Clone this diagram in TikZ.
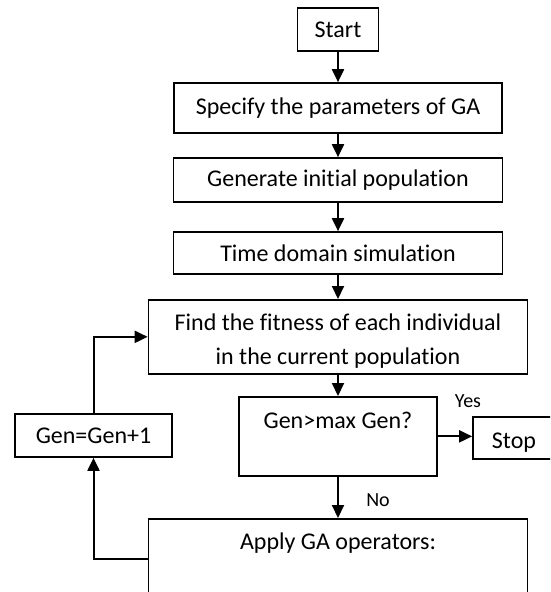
\documentclass[tikz,border=0pt]{standalone}
\usepackage{fontspec}
\setmainfont{Carlito}[Ligatures=NoCommon]
\usetikzlibrary{arrows.meta}

\begin{document}
\begin{tikzpicture}[x=1pt,y=-1pt,
  every node/.style={font=\fontsize{24}{34}\selectfont,align=center},
  blk/.style={draw,line width=1.7pt,inner sep=0pt},
  flow/.style={line width=2pt,-{Triangle[length=13pt,width=12pt]}},
  lbl/.style={font=\fontsize{20}{24}\selectfont}]
  \useasboundingbox (0,0) rectangle (550,592);
  \clip (0,0) rectangle (550,592);

  % main column
  \node[blk,minimum width=81,minimum height=43] (start) at (338,29.5) {Start};
  \node[blk,minimum width=328,minimum height=50] (spec) at (338,108) {Specify the parameters of GA};
  \node[blk,minimum width=329,minimum height=44] (init) at (338,180) {Generate initial population};
  \node[blk,minimum width=329,minimum height=42] (sim) at (338,253) {Time domain simulation};
  \node[blk,minimum width=379,text height=65,text depth=9,anchor=north] (fit) at (338,299) {Find the fitness of each individual\\in the current population};
  \node[blk,minimum width=198,text height=32,text depth=47,anchor=north] (test) at (338,396) {Gen>max Gen?};
  \node[blk,minimum width=379,text height=31,text depth=50,anchor=north] (apply) at (338,518) {Apply GA operators:};

  % side boxes
  \node[blk,minimum width=82,text height=32,text depth=10,anchor=north] (stop) at (514,416) {Stop};
  \node[blk,minimum width=157,minimum height=43] (incr) at (93.5,435.5) {Gen=Gen+1};

  \node[lbl] (yes) at (468,401) {Yes};
  \node[lbl] (no) at (378,500) {No};

  \draw[flow] (start) -- (spec);
  \draw[flow] (spec) -- (init);
  \draw[flow] (init) -- (sim);
  \draw[flow] (sim) -- (fit);
  \draw[flow] (fit) -- (test);
  \draw[flow] (test.east) -- (stop.west |- test.east);
  \draw[flow] (test) -- (apply);
  \draw[flow] (apply.west) -| (incr);
  \draw[flow] (incr) |- (fit);
\end{tikzpicture}
\end{document}
